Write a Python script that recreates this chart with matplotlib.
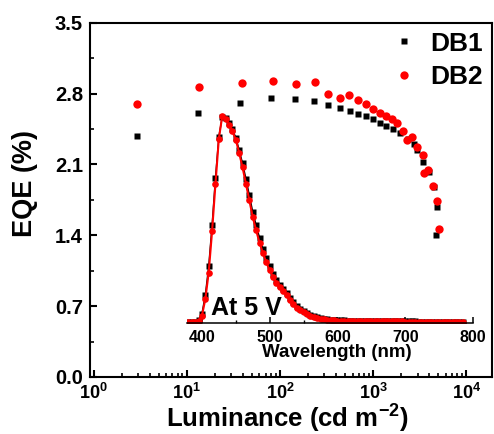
import numpy as np
import matplotlib
matplotlib.use("Agg")
import matplotlib.pyplot as plt
from matplotlib.ticker import FixedLocator, LogLocator, NullFormatter, FuncFormatter

plt.rcParams['font.family'] = ['Liberation Sans', 'DejaVu Sans']
plt.rcParams['font.weight'] = 'bold'
plt.rcParams['mathtext.fontset'] = 'custom'
plt.rcParams['mathtext.rm'] = 'Liberation Sans:bold'
plt.rcParams['mathtext.it'] = 'Liberation Sans:bold'
plt.rcParams['mathtext.bf'] = 'Liberation Sans:bold'

# EQE vs luminance
lum_db1 = [2.9, 13.1, 37, 80, 144, 230, 330, 440, 563, 692, 836, 1000, 1180, 1370,
           1615, 1935, 2380, 2760, 2970, 3440, 3990, 4480, 4790, 4710]
eqe_db1 = [2.38, 2.61, 2.71, 2.76, 2.744, 2.725, 2.685, 2.658, 2.629, 2.603, 2.577, 2.547,
           2.514, 2.481, 2.445, 2.406, 2.347, 2.30, 2.24, 2.125, 2.027, 1.879, 1.675, 1.40]
lum_db2 = [2.95, 13.6, 39, 85, 148, 237, 330, 440, 550, 692, 836, 990, 1180, 1370, 1580,
           1780, 2100, 2330, 2600, 2930, 3380, 3525, 3890, 4340, 4790, 5040]
eqe_db2 = [2.70, 2.866, 2.90, 2.92, 2.89, 2.915, 2.80, 2.76, 2.784, 2.74, 2.695, 2.65,
           2.61, 2.577, 2.544, 2.514, 2.43, 2.34, 2.366, 2.27, 2.19, 2.02, 2.04, 1.89,
           1.74, 1.458]

# EL spectra at 5 V (normalised)
wavelength = [380, 385, 390, 395, 400, 405, 410, 415, 420, 425, 430, 435, 440, 445, 450,
              455, 460, 465, 470, 475, 480, 485, 490, 495, 500, 505, 510, 515, 520, 525,
              530, 535, 540, 545, 550, 555, 560, 565, 570, 575, 580, 585, 590, 595, 600,
              605, 610, 615, 620, 625, 630, 635, 640, 645, 650, 655, 660, 665, 670, 675,
              680, 685, 690, 695, 700, 705, 710, 715, 720, 725, 730, 735, 740, 745, 750,
              755, 760, 765, 770, 775, 780, 785]
el_db1 = [0.0, 0.0, 0.0, 0.008, 0.04, 0.13, 0.27, 0.47, 0.70, 0.90, 0.995, 0.99, 0.965,
          0.935, 0.895, 0.835, 0.77, 0.695, 0.615, 0.535, 0.47, 0.41, 0.355, 0.31, 0.27,
          0.235, 0.205, 0.18, 0.16, 0.14, 0.115, 0.095, 0.078, 0.064, 0.052, 0.043, 0.035,
          0.029, 0.024, 0.019, 0.016, 0.013, 0.011, 0.010, 0.009, 0.008, 0.008, 0.007,
          0.007, 0.006, 0.006, 0.006, 0.005, 0.005, 0.005, 0.005, 0.004, 0.004, 0.004,
          0.004, 0.004, 0.003, 0.003, 0.003, 0.003, 0.003, 0.003, 0.003, 0.002, 0.002,
          0.002, 0.002, 0.002, 0.002, 0.002, 0.002, 0.002, 0.002, 0.002, 0.002, 0.002, 0.002]
el_db2 = [0.0, 0.0, 0.0, 0.005, 0.03, 0.11, 0.24, 0.44, 0.67, 0.89, 1.0, 0.985, 0.955,
          0.925, 0.885, 0.82, 0.75, 0.67, 0.59, 0.51, 0.445, 0.385, 0.335, 0.29, 0.25,
          0.22, 0.19, 0.17, 0.15, 0.13, 0.105, 0.085, 0.07, 0.057, 0.047, 0.038, 0.031,
          0.025, 0.020, 0.016, 0.013, 0.011, 0.009, 0.008, 0.007, 0.006, 0.006, 0.006,
          0.005, 0.005, 0.005, 0.004, 0.004, 0.004, 0.004, 0.004, 0.003, 0.003, 0.003,
          0.003, 0.003, 0.003, 0.003, 0.003, 0.002, 0.002, 0.002, 0.002, 0.002, 0.002,
          0.002, 0.002, 0.002, 0.002, 0.002, 0.002, 0.002, 0.002, 0.002, 0.002, 0.002, 0.002]

fig = plt.figure(figsize=(4.94, 4.34), dpi=100)
ax = fig.add_axes([90/494, 57/434, 402/494, 354.3/434])

ax.plot(lum_db1, eqe_db1, 's', color='black', ms=5, mec='none', label='DB1')
ax.plot(lum_db2, eqe_db2, 'o', color='red', ms=6, mec='none', label='DB2')

ax.set_xscale('log')
ax.set_xlim(0.917, 18800)
ax.set_ylim(0, 3.5)
ax.yaxis.set_major_locator(FixedLocator([0, 0.7, 1.4, 2.1, 2.8, 3.5]))
ax.yaxis.set_minor_locator(FixedLocator([0.35, 1.05, 1.75, 2.45, 3.15]))
ax.yaxis.set_major_formatter(FuncFormatter(lambda v, p: '%.1f' % v))
ax.xaxis.set_major_locator(LogLocator(base=10, numticks=10))
ax.xaxis.set_minor_locator(LogLocator(base=10, subs=np.arange(2, 10), numticks=10))
ax.xaxis.set_minor_formatter(NullFormatter())
ax.xaxis.set_major_formatter(FuncFormatter(lambda v, p: r'$10^{%d}$' % round(np.log10(v))))

for s in ax.spines.values():
    s.set_linewidth(1.5)
ax.tick_params(which='major', direction='in', length=5, width=1.5, pad=5)
ax.tick_params(which='minor', direction='in', length=3, width=1.2)
ax.tick_params(axis='y', which='major', labelsize=14.5)
ax.tick_params(axis='x', which='major', labelsize=13, pad=4)

ax.set_ylabel('EQE (%)', fontsize=19.5, fontweight='bold')
ax.yaxis.set_label_coords(-0.13, 0.545)
ax.set_xlabel(r'Luminance (cd m$^{-2}$)', fontsize=18.5, fontweight='bold', va='top')
ax.xaxis.set_label_coords(0.49, -0.072)

leg = ax.legend(loc='upper right', bbox_to_anchor=(1.0, 1.0), frameon=False,
                prop={'weight': 'bold', 'size': 19},
                handlelength=0.6, handletextpad=0.69, labelspacing=0.37,
                borderpad=0, borderaxespad=0.34)

# inset spectrum
ins = fig.add_axes([187/494, (434-323)/434, (473-187)/494, 213/434])
ins.patch.set_alpha(0)
ins.plot(wavelength, el_db1, 's-', color='black', ms=4, mec='none', lw=1.0)
ins.plot(wavelength, el_db2, 'o-', color='red', ms=4.8, mec='none', lw=1.5)
ins.set_xlim(378, 800)
ins.set_ylim(-0.005, 1.029)
for side in ['top', 'left', 'right']:
    ins.spines[side].set_visible(False)
ins.spines['bottom'].set_linewidth(1.1)
ins.set_yticks([])
ins.xaxis.set_major_locator(FixedLocator([400, 500, 600, 700, 800]))
ins.xaxis.set_minor_locator(FixedLocator([450, 550, 650, 750]))
ins.tick_params(axis='x', which='major', direction='in', length=4, width=1.1,
                labelsize=11.5, pad=5)
ins.tick_params(axis='x', which='minor', direction='in', length=2.5, width=1.0)
ins.set_xlabel('Wavelength (nm)', fontsize=13.5, fontweight='bold')
ins.xaxis.set_label_coords(0.523, -0.1)
ins.text(412.9, 0.034, 'At 5 V', fontsize=18, fontweight='bold', va='baseline')

fig.savefig('out.png', dpi=100)
